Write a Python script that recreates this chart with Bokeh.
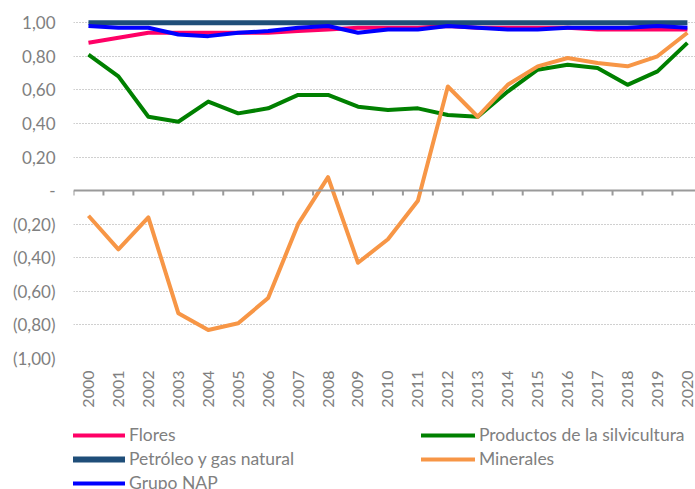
import math
from bokeh.plotting import figure
from bokeh.layouts import column
from bokeh.models import (Range1d, FixedTicker, Span, Legend, LegendItem, ColumnDataSource)
from bokeh.embed import file_html
from bokeh.resources import INLINE

years = list(range(2000, 2021))

flores = [0.88, 0.91, 0.94, 0.94, 0.94, 0.94, 0.94, 0.95, 0.96, 0.97, 0.97,
          0.97, 0.98, 0.97, 0.97, 0.97, 0.97, 0.96, 0.96, 0.96, 0.96]
silvicultura = [0.81, 0.68, 0.44, 0.41, 0.53, 0.46, 0.49, 0.57, 0.57, 0.50, 0.48,
                0.49, 0.45, 0.44, 0.59, 0.72, 0.75, 0.73, 0.63, 0.71, 0.88]
petroleo = [1.00] * 21
minerales = [-0.15, -0.35, -0.16, -0.73, -0.83, -0.79, -0.64, -0.20, 0.08, -0.43, -0.29,
             -0.06, 0.62, 0.44, 0.63, 0.74, 0.79, 0.76, 0.74, 0.80, 0.94]
grupo_nap = [0.98, 0.97, 0.97, 0.93, 0.92, 0.94, 0.95, 0.97, 0.98, 0.94, 0.96,
             0.96, 0.98, 0.97, 0.96, 0.96, 0.97, 0.97, 0.97, 0.98, 0.97]

series_names = ["Flores", "Productos de la silvicultura", "Petróleo y gas natural",
                "Minerales", "Grupo NAP"]
series_values = [flores, silvicultura, petroleo, minerales, grupo_nap]
series_colors = ["#FF0066", "#008000", "#1F4E79", "#F79646", "#0000FF"]
series_widths = [4, 4, 5, 4, 4]

y_ticks = [-1.0, -0.8, -0.6, -0.4, -0.2, 0.0, 0.2, 0.4, 0.6, 0.8, 1.0]
y_tick_labels = ["(1,00)", "(0,80)", "(0,60)", "(0,40)", "(0,20)", "-",
                 "0,20", "0,40", "0,60", "0,80", "1,00"]

FONT = "Lato"
GREY = "#808080"

p = figure(width=695, height=410, output_backend="svg", toolbar_location=None,
           x_range=Range1d(1999.5, 2020.27), y_range=Range1d(-1.0, 1.025),
           min_border_left=73, min_border_right=0, min_border_top=18,
           min_border_bottom=52)
p.outline_line_color = None
p.background_fill_color = "white"
p.border_fill_color = "white"

# y axis
p.yaxis.ticker = FixedTicker(ticks=y_ticks)
p.yaxis.major_label_overrides = {t: l for t, l in zip(y_ticks, y_tick_labels)}
p.yaxis.axis_line_color = None
p.yaxis.major_tick_line_color = None
p.yaxis.minor_tick_line_color = None
p.yaxis.major_tick_out = 0
p.yaxis.major_label_standoff = 18
p.yaxis.major_label_text_font = FONT
p.yaxis.major_label_text_font_size = "17px"
p.yaxis.major_label_text_color = GREY

# x axis (labels only, at bottom)
p.xaxis.ticker = FixedTicker(ticks=years)
p.xaxis.major_label_overrides = {y: str(y) for y in years}
p.xaxis.axis_line_color = None
p.xaxis.major_tick_line_color = None
p.xaxis.minor_tick_line_color = None
p.xaxis.major_tick_out = 0
p.xaxis.major_label_standoff = 12
p.xaxis.major_label_orientation = math.pi / 2
p.xaxis.major_label_text_font = FONT
p.xaxis.major_label_text_font_size = "16px"
p.xaxis.major_label_text_color = GREY

# grid
p.xgrid.grid_line_color = None
p.ygrid.ticker = FixedTicker(ticks=[t for t in y_ticks if t != 0])
p.ygrid.grid_line_color = "#a0a0a0"
p.ygrid.grid_line_dash = "1 2"
p.ygrid.grid_line_width = 1

# zero axis line with category-boundary ticks
zero = Span(location=0, dimension="width", line_color="#9a9a9a", line_width=2)
p.add_layout(zero)
bounds = [y - 0.5 for y in years] + [years[-1] + 0.5]
tick_len = 5 / 168.0
p.segment(x0=bounds, y0=[0] * len(bounds), x1=bounds, y1=[-tick_len] * len(bounds),
          line_color="#9a9a9a", line_width=2)

for name, vals, col, w in zip(series_names, series_values, series_colors, series_widths):
    src = ColumnDataSource(dict(x=years, y=vals))
    p.line("x", "y", source=src, line_color=col, line_width=w, line_join="round")

# legend panel (separate figure below the chart; its series lie outside its view)
p2 = figure(width=695, height=79, output_backend="svg", toolbar_location=None,
            x_axis_type=None, y_axis_type=None, min_border=0,
            x_range=Range1d(1999.5, 2020.27), y_range=Range1d(5, 6))
p2.outline_line_color = None
p2.grid.grid_line_color = None
leg_r = {}
for name, vals, col, w in zip(series_names, series_values, series_colors, series_widths):
    leg_r[name] = p2.line(x=years, y=vals, line_color=col,
                          line_width=(6 if w == 5 else 4), line_cap="round")

legend_order = ["Flores", "Productos de la silvicultura", "Petróleo y gas natural",
                "Minerales", "Grupo NAP"]
items = [LegendItem(label=n, renderers=[leg_r[n]]) for n in legend_order]
legend = Legend(items=items, orientation="horizontal", ncols=2,
                location=(-2, -4), margin=0, padding=0, spacing=3,
                glyph_width=54, glyph_height=20, label_height=20,
                label_standoff=4, label_width=289,
                label_text_font=FONT, label_text_font_size="17.5px",
                label_text_color=GREY,
                border_line_color=None, background_fill_alpha=0)
p2.add_layout(legend, "center")

layout = column(p, p2, spacing=0)
open("out.html", "w").write(file_html(layout, INLINE))
